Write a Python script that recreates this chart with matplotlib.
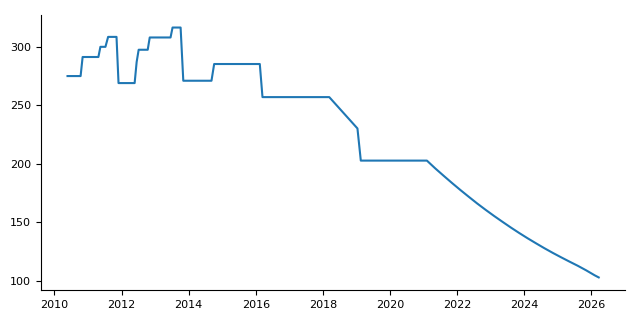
import matplotlib
matplotlib.use("Agg")
import matplotlib.pyplot as plt

# --- data (decimal years, value) ---
years = [
    2010.39, 2010.78, 2010.84, 2011.31, 2011.37, 2011.52, 2011.60, 2011.85,
    2011.91, 2012.39, 2012.45, 2012.51, 2012.78, 2012.84, 2013.46, 2013.52,
    2013.76, 2013.84, 2014.68, 2014.76, 2016.12, 2016.20, 2018.19, 2019.03,
    2019.13, 2021.10, 2021.35, 2021.60, 2021.85, 2022.10, 2022.35, 2022.60,
    2022.85, 2023.10, 2023.35, 2023.60, 2023.85, 2024.10, 2024.35, 2024.60,
    2024.85, 2025.10, 2025.35, 2025.60, 2025.85, 2026.10, 2026.22,
]
values = [
    275.0, 275.0, 291.3, 291.3, 300.0, 300.0, 308.5, 308.5,
    269.0, 269.0, 287.0, 297.5, 297.5, 308.0, 308.0, 316.5,
    316.5, 271.0, 271.0, 285.3, 285.3, 257.0, 257.0, 230.2,
    202.7, 202.7, 196.0, 189.7, 183.5, 177.5, 171.7, 166.0,
    160.6, 155.4, 150.4, 145.5, 140.8, 136.3, 132.0, 127.8,
    123.8, 120.0, 116.3, 112.7, 108.8, 104.6, 102.8,
]

fig = plt.figure(figsize=(6.4, 3.2), dpi=100)
ax = fig.add_axes([0.064, 0.094, 0.913, 0.859])
ax.plot(years, values, color="#1f77b4", linewidth=1.5)

ax.set_xticks(range(2010, 2027, 2))
ax.set_yticks([100, 150, 200, 250, 300])
ax.tick_params(labelsize=8)
ax.spines["top"].set_visible(False)
ax.spines["right"].set_visible(False)

fig.savefig("out.png", dpi=100)
